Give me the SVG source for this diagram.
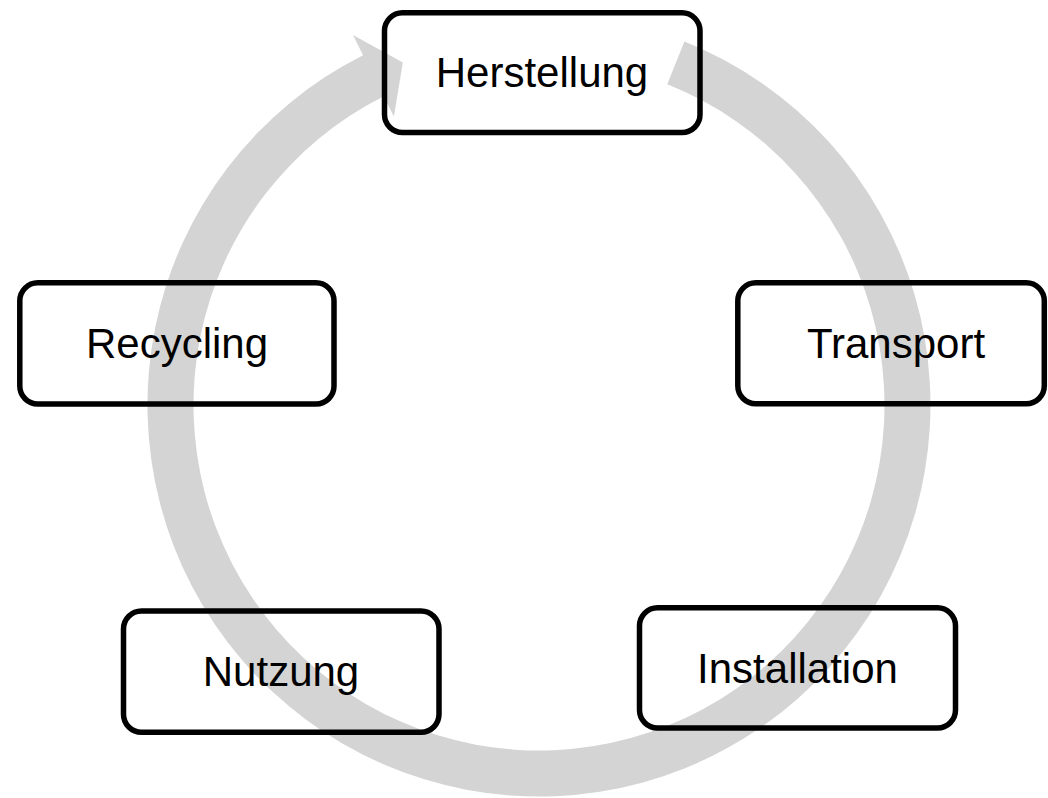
<svg xmlns="http://www.w3.org/2000/svg" width="1048" height="798" viewBox="0 0 1048 798">
  <style>
    .box { fill: none; stroke: #000; stroke-width: 5.5; }
    .lbl { font-family: "Liberation Sans", Arial, sans-serif; font-size: 42px; fill: #000; text-anchor: middle; }
    .ring { fill: #D4D4D4; stroke: none; }
  </style>
  <rect width="1048" height="798" fill="#fff"/>
  <g id="connectors">
    <path class="ring" d="M 684.4 41.5 A 391.5 391.5 0 1 1 363.1 55.2 L 353.0 35.1 L 402.8 62.6 L 393.9 116.4 L 383.8 96.3 A 345.5 345.5 0 1 0 667.3 84.2 Z"/>
  </g>
  <g id="node-herstellung">
    <rect class="box" x="384.5" y="12.8" width="315.5" height="119.7" rx="18"/>
    <text class="lbl" x="542" y="87">Herstellung</text>
  </g>
  <g id="node-transport">
    <rect class="box" x="737.8" y="282.8" width="306.5" height="121" rx="18"/>
    <text class="lbl" x="896" y="358">Transport</text>
  </g>
  <g id="node-installation">
    <rect class="box" x="639.5" y="607.8" width="316" height="120.2" rx="18"/>
    <text class="lbl" x="797.5" y="683">Installation</text>
  </g>
  <g id="node-nutzung">
    <rect class="box" x="123.5" y="611" width="315.5" height="121.3" rx="18"/>
    <text class="lbl" x="281" y="686">Nutzung</text>
  </g>
  <g id="node-recycling">
    <rect class="box" x="19.8" y="282.8" width="314.2" height="121.2" rx="18"/>
    <text class="lbl" x="177" y="358">Recycling</text>
  </g>
</svg>
